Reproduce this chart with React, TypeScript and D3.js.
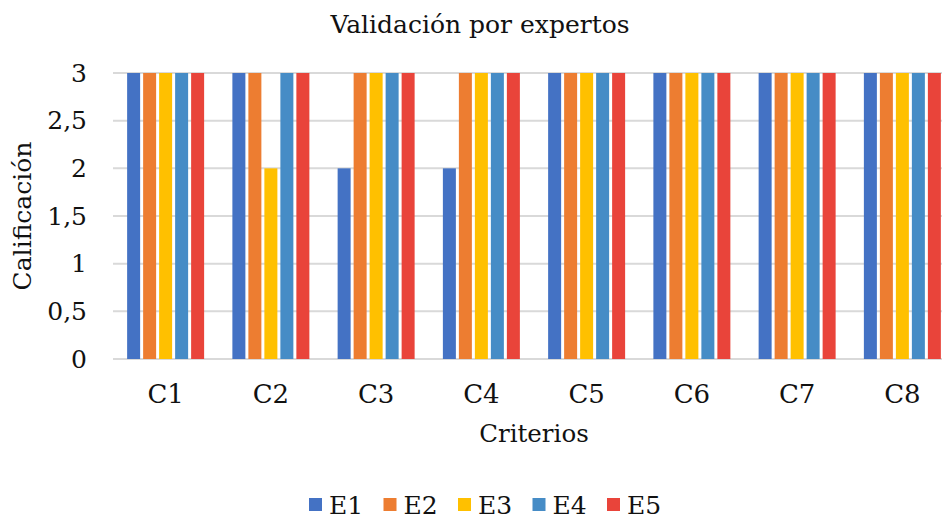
import { useEffect, useRef } from 'react';
import * as d3 from 'd3';

const categories = ['C1', 'C2', 'C3', 'C4', 'C5', 'C6', 'C7', 'C8'];
const seriesNames = ['E1', 'E2', 'E3', 'E4', 'E5'];
const colors = ['#4472C4', '#ED7D31', '#FFC000', '#468CC6', '#E9443A'];

// scores per series (E1..E5) across C1..C8
const e1 = [3, 3, 2, 2, 3, 3, 3, 3];
const e2 = [3, 3, 3, 3, 3, 3, 3, 3];
const e3 = [3, 2, 3, 3, 3, 3, 3, 3];
const e4 = [3, 3, 3, 3, 3, 3, 3, 3];
const e5 = [3, 3, 3, 3, 3, 3, 3, 3];
const seriesValues = [e1, e2, e3, e4, e5];

const yTicks = [0, 0.5, 1, 1.5, 2, 2.5, 3];

const W = 942;
const H = 521;
const FONT = '"DejaVu Serif", Georgia, serif';

export default function App() {
  const svgRef = useRef<SVGSVGElement>(null);

  useEffect(() => {
    if (!svgRef.current) return;
    const svg = d3.select(svgRef.current);
    svg.selectAll('*').remove();

    const left = 113, right = 955, top = 73, bottom = 359;

    const x = d3.scaleBand<string>()
      .domain(categories)
      .range([left, right])
      .paddingInner(0.24)
      .paddingOuter(0.12);

    const xs = d3.scaleBand<string>()
      .domain(seriesNames)
      .range([0, x.bandwidth()]);

    const y = d3.scaleLinear().domain([0, 3]).range([bottom, top]);

    // gridlines
    svg.append('g')
      .selectAll('line')
      .data(yTicks)
      .join('line')
      .attr('x1', left)
      .attr('x2', W)
      .attr('y1', d => y(d))
      .attr('y2', d => y(d))
      .attr('stroke', '#d9d9d9')
      .attr('stroke-width', 2);

    // y tick labels
    svg.append('g')
      .selectAll('text')
      .data(yTicks)
      .join('text')
      .attr('x', 87)
      .attr('y', d => y(d))
      .attr('dy', '0.35em')
      .attr('text-anchor', 'end')
      .attr('font-family', FONT)
      .attr('font-size', 25)
      .attr('fill', '#111')
      .text(d => d3.format('.1~f')(d).replace('.', ','));

    // bars
    const groups = svg.append('g')
      .selectAll('g')
      .data(seriesNames)
      .join('g')
      .attr('fill', (_, i) => colors[i]);

    groups.selectAll('rect')
      .data((s, i) => seriesValues[i].map((v, j) => ({ s, v, c: categories[j] })))
      .join('rect')
      .attr('x', d => (x(d.c) ?? 0) + (xs(d.s) ?? 0) + 1.5)
      .attr('width', xs.bandwidth() - 3)
      .attr('y', d => y(d.v))
      .attr('height', d => y(0) - y(d.v));

    // category labels
    svg.append('g')
      .selectAll('text')
      .data(categories)
      .join('text')
      .attr('x', d => (x(d) ?? 0) + x.bandwidth() / 2)
      .attr('y', 403)
      .attr('text-anchor', 'middle')
      .attr('font-family', FONT)
      .attr('font-size', 26)
      .attr('fill', '#111')
      .text(d => d);

    // axis titles
    svg.append('text')
      .attr('x', (left + right) / 2)
      .attr('y', 442)
      .attr('text-anchor', 'middle')
      .attr('font-family', FONT)
      .attr('font-size', 24.5)
      .attr('fill', '#111')
      .text('Criterios');

    svg.append('text')
      .attr('transform', `translate(31, ${(top + bottom) / 2}) rotate(-90)`)
      .attr('text-anchor', 'middle')
      .attr('font-family', FONT)
      .attr('font-size', 25)
      .attr('fill', '#111')
      .text('Calificación');

    // title
    svg.append('text')
      .attr('x', 480)
      .attr('y', 33)
      .attr('text-anchor', 'middle')
      .attr('font-family', FONT)
      .attr('font-size', 25)
      .attr('fill', '#111')
      .text('Validación por expertos');

    // legend
    const legend = svg.append('g')
      .selectAll('g')
      .data(seriesNames)
      .join('g')
      .attr('transform', (_, i) => `translate(${309 + i * 74.5}, 0)`);

    legend.append('rect')
      .attr('y', 498)
      .attr('width', 13)
      .attr('height', 13)
      .attr('fill', (_, i) => colors[i]);

    legend.append('text')
      .attr('x', 20)
      .attr('y', 514)
      .attr('font-family', FONT)
      .attr('font-size', 25)
      .attr('fill', '#111')
      .text(d => d);
  }, []);

  return (
    <svg
      ref={svgRef}
      width={W}
      height={H}
      style={{ position: 'absolute', left: 0, top: 0, background: '#fff' }}
    />
  );
}
